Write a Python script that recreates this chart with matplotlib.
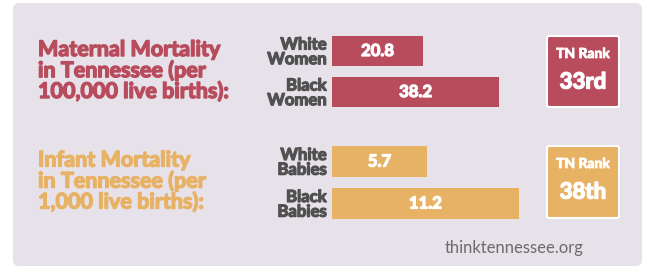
import matplotlib.pyplot as plt
import matplotlib.patheffects as pe
from matplotlib.patches import FancyBboxPatch

# data
maternal_labels = ["White\nWomen", "Black\nWomen"]
maternal_values = [20.8, 38.2]
infant_labels = ["White\nBabies", "Black\nBabies"]
infant_values = [5.7, 11.2]
titles = ["Maternal Mortality\nin Tennessee (per\n100,000 live births):",
          "Infant Mortality\nin Tennessee (per\n1,000 live births):"]
ranks = ["33rd", "38th"]
source = "thinktennessee.org"

red = "#b84b5c"
orange = "#e8b265"
panel = "#e7e2ea"
gray = "#515151"
W, H = 649, 270
font = "Lato"


def fat(c, w=0.9):
    # fake a heavier weight
    return [pe.Stroke(linewidth=w, foreground=c), pe.Normal()]


fig = plt.figure(figsize=(W / 100, H / 100), dpi=100)
fig.patch.set_facecolor("white")

bg = fig.add_axes([0, 0, 1, 1])
bg.set_xlim(0, W)
bg.set_ylim(H, 0)
bg.axis("off")
bg.add_patch(FancyBboxPatch((13, 3), 629, 263, boxstyle="round,pad=0,rounding_size=6",
                            fc=panel, ec="none"))


def bar_panel(top, bottom, scale, labels, values, color):
    # top/bottom are pixel rows of the axes, scale = px per unit
    n = len(values)
    ax = fig.add_axes([332 / W, 1 - bottom / H, 220 / W, (bottom - top) / H])
    ax.set_xlim(0, 220 / scale)
    ax.set_ylim(n - 0.5, -0.5)
    ax.barh(range(n), values, height=0.73, color=color)
    for i, v in enumerate(values):
        ax.text(v / 2, i, f"{v}", ha="center", va="center", color="white",
                fontsize=12, fontweight="bold", family=font, path_effects=fat("white"))
    ax.set_yticks(range(n))
    ax.set_yticklabels(labels, fontsize=12, fontweight="bold", color=gray,
                       family=font, linespacing=0.9)
    for t in ax.get_yticklabels():
        t.set_path_effects(fat(gray))
    ax.tick_params(axis="y", length=0, pad=4)
    ax.set_xticks([])
    for s in ax.spines.values():
        s.set_visible(False)
    ax.patch.set_alpha(0)
    return ax


bar_panel(30.5, 112.5, 91 / 20.8, maternal_labels, maternal_values, red)
bar_panel(140.5, 224.5, 95 / 5.7, infant_labels, infant_values, orange)

colors = [red, orange]
for k, (ty, by) in enumerate([(36, 107), (146, 218)]):
    bg.text(38, (ty + by) / 2 - 1, titles[k], ha="left", va="center", color=colors[k],
            fontsize=15.5, fontweight="bold", family=font, linespacing=0.95,
            path_effects=fat(colors[k], 1.0))
    bg.add_patch(FancyBboxPatch((547, ty), 72, by - ty, boxstyle="round,pad=0,rounding_size=2",
                                fc=colors[k], ec="white", lw=1.5))
    bg.text(583, ty + 18, "TN Rank", ha="center", va="center", color="white",
            fontsize=10, fontweight="bold", family=font, path_effects=fat("white", 0.6))
    bg.text(583, ty + 46, ranks[k], ha="center", va="center", color="white",
            fontsize=16, fontweight="bold", family=font, path_effects=fat("white", 1.0))

bg.text(514, 248, source, ha="center", va="center", color="#6b6b6b",
        fontsize=12, family=font)

fig.savefig("out.png", dpi=100, facecolor="white")
